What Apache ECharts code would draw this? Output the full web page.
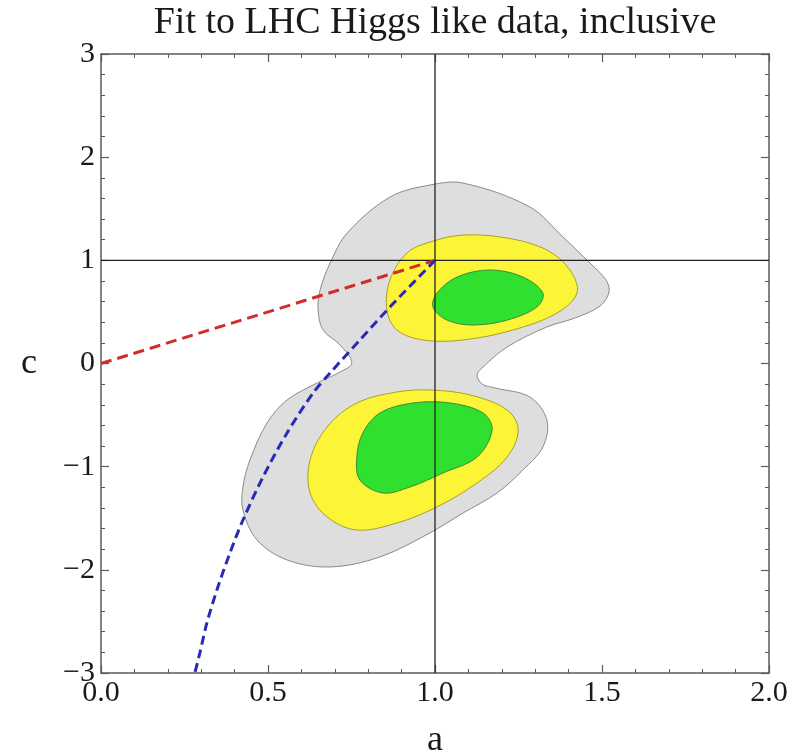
<!DOCTYPE html>
<html>
<head>
<meta charset="utf-8">
<script src="https://cdn.jsdelivr.net/npm/echarts@6/dist/echarts.min.js"></script>
<style>html,body{margin:0;padding:0;background:#fff;overflow:hidden;}#chart{width:799px;height:752px;}</style>
</head>
<body>
<div id="chart"></div>
<script>
// ---- Data (a, c) ----
const xTicks = [0.0, 0.5, 1.0, 1.5, 2.0];
const yTicks = [-3, -2, -1, 0, 1, 2, 3];

const grayRegion = [
  [1.084,1.749],[1.284,1.517],[1.383,1.226],[1.464,0.974],[1.512,0.809],[1.521,0.693],
  [1.494,0.557],[1.419,0.441],[1.335,0.354],[1.216,0.160],[1.144,-0.034],[1.126,-0.111],
  [1.141,-0.199],[1.180,-0.237],[1.284,-0.325],[1.335,-0.547],[1.323,-0.809],[1.263,-1.032],
  [1.186,-1.255],[1.084,-1.449],[0.985,-1.642],[0.835,-1.875],[0.686,-1.972],[0.557,-1.904],
  [0.467,-1.710],[0.425,-1.419],[0.425,-1.197],[0.446,-0.935],[0.497,-0.577],[0.557,-0.354],
  [0.647,-0.189],[0.716,-0.082],[0.751,0.005],[0.716,0.179],[0.665,0.324],[0.650,0.518],
  [0.656,0.712],[0.686,0.974],[0.737,1.264],[0.865,1.613],[0.985,1.730]
];
const yellowUpper = [
  [1.084,1.245],[1.216,1.216],[1.335,1.100],[1.404,0.906],[1.425,0.683],[1.365,0.489],
  [1.234,0.325],[1.084,0.228],[0.964,0.228],[0.886,0.325],[0.856,0.518],[0.865,0.809],
  [0.916,1.071],[0.985,1.177]
];
const greenUpper = [
  [1.006,0.683],[1.066,0.838],[1.165,0.906],[1.263,0.838],[1.323,0.683],[1.305,0.547],
  [1.216,0.421],[1.114,0.373],[1.036,0.421],[0.994,0.547]
];
const yellowLower = [
  [0.886,-0.276],[0.985,-0.257],[1.105,-0.305],[1.216,-0.451],[1.249,-0.645],[1.216,-0.906],
  [1.126,-1.158],[1.006,-1.390],[0.886,-1.546],[0.766,-1.614],[0.677,-1.487],[0.626,-1.255],
  [0.626,-0.935],[0.677,-0.615],[0.766,-0.383]
];
const greenLower = [
  [0.766,-0.906],[0.784,-0.673],[0.835,-0.480],[0.934,-0.383],[1.045,-0.383],[1.144,-0.480],
  [1.171,-0.645],[1.126,-0.906],[1.024,-1.061],[0.925,-1.197],[0.844,-1.255],[0.775,-1.129]
];
const redCurve = [[0,0],[1,1]];
const blueCurve = [
  [1.0,1.0],[0.865,0.547],[0.775,0.228],[0.686,-0.092],[0.635,-0.286],[0.557,-0.673],
  [0.485,-1.100],[0.425,-1.517],[0.386,-1.836],[0.347,-2.195],[0.317,-2.515],[0.296,-2.805],[0.281,-3.0]
];
const vLine = [[1,-3],[1,3]];
const hLine = [[0,1],[2,1]];

// ---- Chart ----
const FONT = '"Liberation Serif", "DejaVu Serif", serif';
const chart = echarts.init(document.getElementById('chart'), null, {renderer:'canvas', width: 799, height: 752});

function polySeries(name, pts, fill, stroke, z) {
  return {
    type: 'custom', name: name, z: z, silent: true,
    coordinateSystem: 'cartesian2d',
    data: pts,
    renderItem: function (params, api) {
      if (params.dataIndex !== 0) return null;
      return {
        type: 'polygon',
        shape: { points: pts.map(p => api.coord(p)), smooth: 0.35 },
        style: { fill: fill, stroke: stroke, lineWidth: 1 }
      };
    }
  };
}

const axisCommon = {
  type: 'value',
  axisLine: { show: true, onZero: false, lineStyle: { color: '#5a5a5a', width: 1.5 } },
  axisTick: { show: true, inside: true, length: 8, lineStyle: { color: '#5a5a5a', width: 1.2 } },
  minorTick: { show: true, splitNumber: 5, length: 4, lineStyle: { color: '#5a5a5a', width: 1 } },
  splitLine: { show: false },
  minorSplitLine: { show: false }
};

const option = {
  backgroundColor: '#fff',
  animation: false,
  graphic: [{
    type: 'text', x: 435, y: 23,
    style: { text: 'Fit to LHC Higgs like data, inclusive', font: '38px ' + FONT, fill: '#1a1a1a', textAlign: 'center', textVerticalAlign: 'middle' }
  }],
  grid: { left: 101, right: 30, top: 54, bottom: 79, containLabel: false, outerBoundsMode: 'none' },
  xAxis: [
    Object.assign({}, axisCommon, {
      position: 'bottom', min: xTicks[0], max: xTicks[xTicks.length-1], interval: 0.5,
      name: 'a', nameLocation: 'middle', nameGap: 50,
      nameTextStyle: { fontFamily: FONT, fontSize: 36, color: '#1a1a1a' },
      axisLabel: { show: true, margin: 5, fontFamily: FONT, fontSize: 30, color: '#1a1a1a',
        formatter: v => v.toFixed(1) }
    }),
    Object.assign({}, axisCommon, {
      position: 'top', min: xTicks[0], max: xTicks[xTicks.length-1], interval: 0.5,
      axisLabel: { show: false }
    })
  ],
  yAxis: [
    Object.assign({}, axisCommon, {
      position: 'left', min: yTicks[0], max: yTicks[yTicks.length-1], interval: 1,
      name: 'c', nameLocation: 'middle', nameGap: 64, nameRotate: 0,
      nameTextStyle: { fontFamily: FONT, fontSize: 36, color: '#1a1a1a' },
      axisLabel: { show: true, margin: 6, fontFamily: FONT, fontSize: 30, color: '#1a1a1a',
        formatter: v => String(v).replace('-', '\u2212') }
    }),
    Object.assign({}, axisCommon, {
      position: 'right', min: yTicks[0], max: yTicks[yTicks.length-1], interval: 1,
      axisLabel: { show: false }
    })
  ],
  series: [
    polySeries('gray', grayRegion, '#dedede', '#8a8a8a', 1),
    polySeries('yellowU', yellowUpper, '#fbf437', '#a89f2a', 2),
    polySeries('yellowL', yellowLower, '#fbf437', '#a89f2a', 2),
    polySeries('greenU', greenUpper, '#2fe02f', '#3a8a3a', 3),
    polySeries('greenL', greenLower, '#2fe02f', '#3a8a3a', 3),
    { type: 'line', data: vLine, z: 4, silent: true, showSymbol: false, symbol: 'none',
      lineStyle: { color: '#222', width: 1.3 } },
    { type: 'line', data: hLine, z: 4, silent: true, showSymbol: false, symbol: 'none',
      lineStyle: { color: '#222', width: 1.3 } },
    { type: 'line', data: redCurve, z: 5, silent: true, showSymbol: false, symbol: 'none',
      lineStyle: { color: '#d22b2b', width: 3, type: [11, 6] } },
    { type: 'line', data: blueCurve, z: 5, silent: true, showSymbol: false, symbol: 'none', smooth: 0.3,
      lineStyle: { color: '#2a2ab4', width: 3, type: [9, 5] } }
  ]
};
chart.setOption(option);
</script>
</body>
</html>
